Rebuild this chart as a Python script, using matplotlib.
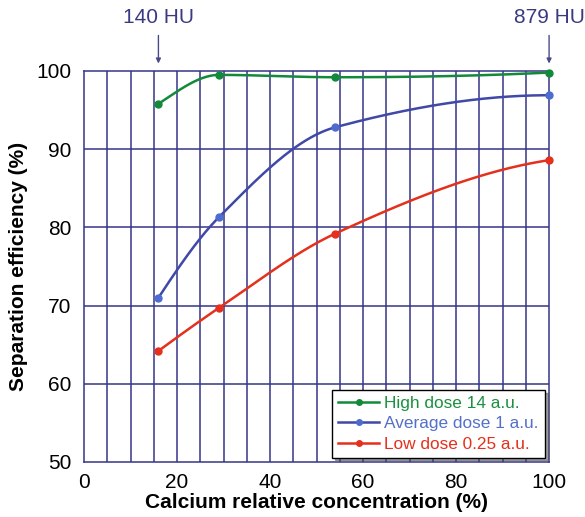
import numpy as np
import matplotlib.pyplot as plt

plt.rcParams['font.family'] = ['Liberation Sans', 'DejaVu Sans']

# data
calcium = [16, 29, 54, 100]
high_dose = [95.8, 99.5, 99.2, 99.8]
avg_dose = [71.0, 81.3, 92.8, 96.9]
low_dose = [64.2, 69.7, 79.2, 88.6]
labels = ['High dose 14 a.u.', 'Average dose 1 a.u.', 'Low dose 0.25 a.u.']
hu_marks = [(16, '140 HU'), (100, '879 HU')]

grid_col = '#35358a'
cols = ['#128a3a', '#4048a8', '#e4301c']
mcols = ['#128a3a', '#4e6cd0', '#e4301c']
txtcols = ['#1a9040', '#5470c8', '#e4301c']


def pchip(x, y, xs):
    # monotone cubic for a smooth curve through the points
    x = np.asarray(x, float); y = np.asarray(y, float)
    h = np.diff(x); d = np.diff(y) / h
    m = np.zeros_like(y)
    for k in range(1, len(x) - 1):
        if d[k-1] * d[k] > 0:
            w1 = 2*h[k] + h[k-1]; w2 = h[k] + 2*h[k-1]
            m[k] = (w1 + w2) / (w1/d[k-1] + w2/d[k])
    m[0] = ((2*h[0] + h[1])*d[0] - h[0]*d[1]) / (h[0] + h[1])
    if np.sign(m[0]) != np.sign(d[0]): m[0] = 0
    m[-1] = ((2*h[-1] + h[-2])*d[-1] - h[-1]*d[-2]) / (h[-1] + h[-2])
    if np.sign(m[-1]) != np.sign(d[-1]): m[-1] = 0
    out = []
    for xv in xs:
        k = min(np.searchsorted(x, xv, side='right') - 1, len(x) - 2)
        t = (xv - x[k]) / h[k]
        h00 = 2*t**3 - 3*t**2 + 1; h10 = t**3 - 2*t**2 + t
        h01 = -2*t**3 + 3*t**2; h11 = t**3 - t**2
        out.append(h00*y[k] + h10*h[k]*m[k] + h01*y[k+1] + h11*h[k]*m[k+1])
    return np.array(out)


fig = plt.figure(figsize=(5.85, 5.17), dpi=100)
ax = fig.add_axes([0.1436, 0.1064, 0.795, 0.7563])

for v in np.arange(5, 100, 5):
    ax.axvline(v, color=grid_col, lw=1.1, zorder=1)
for v in np.arange(60, 100, 10):
    ax.axhline(v, color=grid_col, lw=1.1, zorder=1)

xs = np.linspace(calcium[0], calcium[-1], 300)
for ys, c, mc, lab in zip([high_dose, avg_dose, low_dose], cols, mcols, labels):
    ax.plot(xs, pchip(calcium, ys, xs), color=c, lw=1.8, zorder=3)
    ax.plot(calcium, ys, 'o', color=mc, ms=5, zorder=4, clip_on=False)
    ax.plot([], [], '-o', color=c, mfc=mc, mec=mc, ms=4, lw=1.8, label=lab)

ax.set_xlim(0, 100)
ax.set_ylim(50, 100)
ax.set_xticks(range(0, 101, 20))
ax.set_yticks(range(50, 101, 10))
ax.tick_params(length=0, labelsize=15)
ax.tick_params(axis='x', pad=8)
ax.tick_params(axis='y', pad=9)
for s in ax.spines.values():
    s.set_color(grid_col)
    s.set_linewidth(1.1)
ax.set_xlabel('Calcium relative concentration (%)', fontsize=15, fontweight='bold', labelpad=1)
ax.set_ylabel('Separation efficiency (%)', fontsize=15, fontweight='bold', labelpad=6)

for xv, txt in hu_marks:
    ax.annotate('', xy=(xv, 100.6), xytext=(xv, 104.9), xycoords='data',
                arrowprops=dict(arrowstyle='-|>', color='#4a4a8a', lw=1.0,
                                mutation_scale=7), annotation_clip=False)
    ax.text(xv, 105.6, txt, ha='center', va='bottom', fontsize=15,
            color='#3a3a80', clip_on=False)

leg = ax.legend(loc='lower right', bbox_to_anchor=(1.0, 0.0), fontsize=12.4,
                frameon=True, fancybox=False, shadow=True, handlelength=2.4,
                borderpad=0.35, labelspacing=0.3, handletextpad=0.3,
                borderaxespad=0.25)
leg.get_frame().set_edgecolor('black')
leg.get_frame().set_linewidth(1.0)
for t, c in zip(leg.get_texts(), txtcols):
    t.set_color(c)
leg.set_zorder(5)

fig.savefig('out.png', dpi=100)
